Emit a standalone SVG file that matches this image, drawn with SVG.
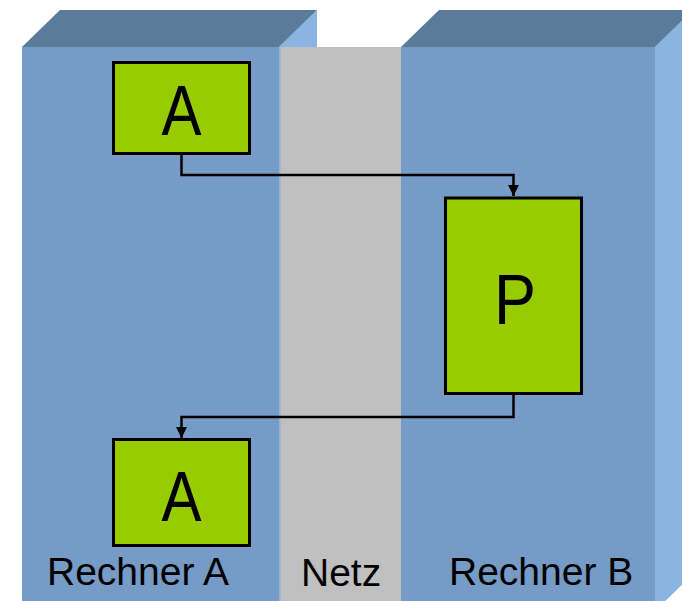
<svg xmlns="http://www.w3.org/2000/svg" width="682" height="601" viewBox="0 0 682 601">
  <defs>
    <style>
      .front { fill: #759BC6; }
      .top { fill: #5B7B9A; }
      .side { fill: #8AB4E1; }
      .net { fill: #C0C0C0; }
      .proc { fill: #99CC00; stroke: #000000; stroke-width: 3; }
      .big { font-family: "Liberation Sans", Arial, sans-serif; font-size: 70px; fill: #000000; text-anchor: middle; }
      .lbl { font-family: "Liberation Sans", Arial, sans-serif; font-size: 39px; fill: #000000; }
      .conn { fill: none; stroke: #000000; stroke-width: 2.5; }
    </style>
    <marker id="arrow" viewBox="0 0 10 10" refX="10" refY="5" markerWidth="4.4" markerHeight="4.4" markerUnits="strokeWidth" orient="auto">
      <path d="M0,0 L10,5 L0,10 Z" fill="#000000"/>
    </marker>
  </defs>
  <rect width="682" height="601" fill="#FFFFFF"/>

  <g id="rechner-a">
    <polygon class="side" points="279,47 317,10 317,574 279,611"/>
    <polygon class="top" points="22,47 60,10 317,10 279,47"/>
    <rect class="front" x="22" y="47" width="257" height="564"/>
    <text class="lbl" x="47" y="585">Rechner A</text>
  </g>

  <g id="rechner-b">
    <polygon class="side" points="655,47 693,10 693,574 655,611"/>
    <polygon class="top" points="401,47 439,10 693,10 655,47"/>
    <rect class="front" x="401" y="47" width="254" height="564"/>
    <text class="lbl" x="449" y="585">Rechner B</text>
  </g>

  <g id="netz">
    <rect class="net" x="280.5" y="47" width="120.5" height="560"/>
    <text class="lbl" x="301" y="586">Netz</text>
  </g>

  <g id="connectors">
    <polyline class="conn" points="181.5,154 181.5,175 513.5,175 513.5,196" marker-end="url(#arrow)"/>
    <polyline class="conn" points="513.5,394 513.5,417 181.5,417 181.5,438" marker-end="url(#arrow)"/>
  </g>

  <g id="node-a-top">
    <rect class="proc" x="113.5" y="62.5" width="136" height="91"/>
    <text class="big" x="181.5" y="135" textLength="40" lengthAdjust="spacingAndGlyphs">A</text>
  </g>

  <g id="node-p">
    <rect class="proc" x="445.5" y="198" width="136" height="195.5"/>
    <text class="big" x="515" y="324" textLength="42" lengthAdjust="spacingAndGlyphs">P</text>
  </g>

  <g id="node-a-bottom">
    <rect class="proc" x="113.5" y="439.5" width="136" height="106"/>
    <text class="big" x="181.5" y="521" textLength="40" lengthAdjust="spacingAndGlyphs">A</text>
  </g>
</svg>
